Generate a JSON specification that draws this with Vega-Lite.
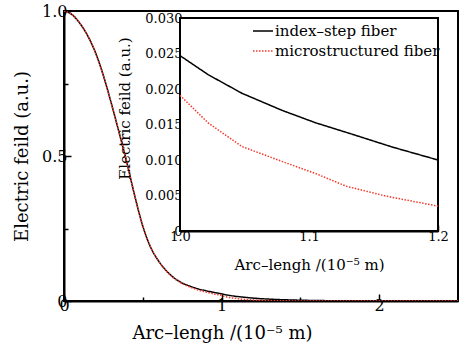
{
  "$schema": "https://vega.github.io/schema/vega-lite/v6.json",
  "autosize": {"type": "none"},
  "width": 394,
  "height": 290,
  "padding": {"left": 64, "top": 11, "right": 7, "bottom": 47},
  "background": "white",
  "config": {
    "view": {"stroke": "black", "strokeWidth": 2},
    "font": "DejaVu Serif, Liberation Serif, serif",
    "axis": {
      "domainColor": "black", "domainWidth": 2, "tickColor": "black", "tickWidth": 1.5,
      "labelColor": "black", "titleColor": "black", "labelFont": "DejaVu Serif, Liberation Serif, serif", "titleFont": "DejaVu Serif, Liberation Serif, serif",
      "titleFontWeight": "normal", "grid": false, "labelFlush": false, "labelOverlap": false
    },
    "legend": {"labelFont": "DejaVu Serif, Liberation Serif, serif", "labelLimit": 0}
  },
  "datasets": {
    "curve": [
      {"x": 0, "y": 1.0, "fiber": "index–step fiber"},
      {"x": 0.05, "y": 0.988, "fiber": "index–step fiber"},
      {"x": 0.1, "y": 0.958, "fiber": "index–step fiber"},
      {"x": 0.15, "y": 0.915, "fiber": "index–step fiber"},
      {"x": 0.2, "y": 0.856, "fiber": "index–step fiber"},
      {"x": 0.25, "y": 0.777, "fiber": "index–step fiber"},
      {"x": 0.3, "y": 0.682, "fiber": "index–step fiber"},
      {"x": 0.35, "y": 0.58, "fiber": "index–step fiber"},
      {"x": 0.4, "y": 0.475, "fiber": "index–step fiber"},
      {"x": 0.45, "y": 0.36, "fiber": "index–step fiber"},
      {"x": 0.5, "y": 0.258, "fiber": "index–step fiber"},
      {"x": 0.55, "y": 0.185, "fiber": "index–step fiber"},
      {"x": 0.6, "y": 0.138, "fiber": "index–step fiber"},
      {"x": 0.65, "y": 0.104, "fiber": "index–step fiber"},
      {"x": 0.7, "y": 0.079, "fiber": "index–step fiber"},
      {"x": 0.75, "y": 0.062, "fiber": "index–step fiber"},
      {"x": 0.8, "y": 0.051, "fiber": "index–step fiber"},
      {"x": 0.85, "y": 0.042, "fiber": "index–step fiber"},
      {"x": 0.9, "y": 0.0355, "fiber": "index–step fiber"},
      {"x": 0.95, "y": 0.0298, "fiber": "index–step fiber"},
      {"x": 1.0, "y": 0.0247, "fiber": "index–step fiber"},
      {"x": 1.022, "y": 0.022, "fiber": "index–step fiber"},
      {"x": 1.048, "y": 0.0194, "fiber": "index–step fiber"},
      {"x": 1.079, "y": 0.017, "fiber": "index–step fiber"},
      {"x": 1.105, "y": 0.01525, "fiber": "index–step fiber"},
      {"x": 1.134, "y": 0.0136, "fiber": "index–step fiber"},
      {"x": 1.165, "y": 0.0118, "fiber": "index–step fiber"},
      {"x": 1.2, "y": 0.01, "fiber": "index–step fiber"},
      {"x": 1.3, "y": 0.0065, "fiber": "index–step fiber"},
      {"x": 1.4, "y": 0.0042, "fiber": "index–step fiber"},
      {"x": 1.5, "y": 0.0027, "fiber": "index–step fiber"},
      {"x": 1.6, "y": 0.0017, "fiber": "index–step fiber"},
      {"x": 1.8, "y": 0.0007, "fiber": "index–step fiber"},
      {"x": 2.0, "y": 0.0003, "fiber": "index–step fiber"},
      {"x": 2.5, "y": 0.0, "fiber": "index–step fiber"},
      {"x": 0, "y": 1.0, "fiber": "microstructured fiber"},
      {"x": 0.05, "y": 0.988, "fiber": "microstructured fiber"},
      {"x": 0.1, "y": 0.958, "fiber": "microstructured fiber"},
      {"x": 0.15, "y": 0.915, "fiber": "microstructured fiber"},
      {"x": 0.2, "y": 0.856, "fiber": "microstructured fiber"},
      {"x": 0.25, "y": 0.777, "fiber": "microstructured fiber"},
      {"x": 0.3, "y": 0.682, "fiber": "microstructured fiber"},
      {"x": 0.35, "y": 0.58, "fiber": "microstructured fiber"},
      {"x": 0.4, "y": 0.475, "fiber": "microstructured fiber"},
      {"x": 0.45, "y": 0.36, "fiber": "microstructured fiber"},
      {"x": 0.5, "y": 0.258, "fiber": "microstructured fiber"},
      {"x": 0.55, "y": 0.185, "fiber": "microstructured fiber"},
      {"x": 0.6, "y": 0.138, "fiber": "microstructured fiber"},
      {"x": 0.65, "y": 0.103, "fiber": "microstructured fiber"},
      {"x": 0.7, "y": 0.078, "fiber": "microstructured fiber"},
      {"x": 0.75, "y": 0.06, "fiber": "microstructured fiber"},
      {"x": 0.8, "y": 0.048, "fiber": "microstructured fiber"},
      {"x": 0.85, "y": 0.038, "fiber": "microstructured fiber"},
      {"x": 0.9, "y": 0.031, "fiber": "microstructured fiber"},
      {"x": 0.95, "y": 0.0245, "fiber": "microstructured fiber"},
      {"x": 1.0, "y": 0.0191, "fiber": "microstructured fiber"},
      {"x": 1.022, "y": 0.0152, "fiber": "microstructured fiber"},
      {"x": 1.048, "y": 0.0119, "fiber": "microstructured fiber"},
      {"x": 1.079, "y": 0.0098, "fiber": "microstructured fiber"},
      {"x": 1.105, "y": 0.0081, "fiber": "microstructured fiber"},
      {"x": 1.129, "y": 0.0063, "fiber": "microstructured fiber"},
      {"x": 1.16, "y": 0.0049, "fiber": "microstructured fiber"},
      {"x": 1.2, "y": 0.0035, "fiber": "microstructured fiber"},
      {"x": 1.3, "y": 0.0015, "fiber": "microstructured fiber"},
      {"x": 1.4, "y": 0.0006, "fiber": "microstructured fiber"},
      {"x": 1.5, "y": 0.0002, "fiber": "microstructured fiber"},
      {"x": 1.7, "y": 0.0, "fiber": "microstructured fiber"},
      {"x": 2.5, "y": 0.0, "fiber": "microstructured fiber"}
    ]
  },
  "data": {"name": "curve"},
  "resolve": {"scale": {"x": "independent", "y": "independent"}, "axis": {"x": "independent", "y": "independent"}},
  "layer": [
    {
      "mark": {"type": "line", "strokeWidth": 1.5, "clip": true, "interpolate": "monotone"},
      "encoding": {
        "x": {
          "field": "x", "type": "quantitative",
          "scale": {"domain": [0, 2.5], "nice": false, "zero": false},
          "axis": {
            "orient": "bottom",
            "values": [0, 0.5, 1, 1.5, 2],
            "labelExpr": "datum.value % 1 === 0 ? format(datum.value, 'd') : ''",
            "tickSize": {"condition": {"test": "datum.value % 1 === 0", "value": -7}, "value": -4},
            "labelFontSize": 16, "labelPadding": 3,
            "title": "Arc–lengh /(10⁻⁵ m)", "titleFontSize": 18,
            "titleX": 158, "titleY": 37, "titleBaseline": "alphabetic", "titleAlign": "center"
          }
        },
        "y": {
          "field": "y", "type": "quantitative",
          "scale": {"domain": [0, 1], "nice": false},
          "axis": {
            "orient": "left",
            "values": [0, 0.25, 0.5, 0.75, 1],
            "labelExpr": "datum.value === 0 ? '0' : ((datum.value === 0.5 || datum.value === 1) ? format(datum.value, '.1f') : '')",
            "tickSize": {"condition": {"test": "datum.value === 0 || datum.value === 0.5 || datum.value === 1", "value": -7}, "value": -4},
            "labelFontSize": 16, "labelPadding": 4,
            "title": "Electric feild (a.u.)", "titleFontSize": 18,
            "titleX": -37, "titleY": 145, "titleBaseline": "alphabetic", "titleAlign": "center", "titleAngle": 270
          }
        },
        "color": {
          "field": "fiber", "type": "nominal",
          "scale": {"domain": ["index–step fiber", "microstructured fiber"], "range": ["#000000", "#f23a2c"]},
          "legend": {
            "orient": "none", "legendX": 188, "legendY": 9, "title": null,
            "symbolType": "stroke", "symbolSize": 400, "symbolStrokeWidth": 1.5,
            "labelFontSize": 15, "labelColor": "black", "labelLimit": 0,
            "labelOffset": 1, "rowPadding": 1
          }
        },
        "strokeDash": {
          "field": "fiber", "type": "nominal",
          "scale": {"domain": ["index–step fiber", "microstructured fiber"], "range": [[1, 0], [1.5, 1.5]]}
        }
      }
    },
    {
      "layer": [
        {
          "data": {"values": [{}]},
          "mark": {"type": "rect", "fill": "white", "stroke": "black", "strokeWidth": 2},
          "encoding": {
            "x": {
              "datum": 1, "type": "quantitative",
              "scale": {"domain": [1, 1.2], "range": [116, 374], "nice": false, "zero": false},
              "axis": {
                "orient": "bottom",
                "offset": -70,
                "values": [1, 1.025, 1.05, 1.075, 1.1, 1.125, 1.15, 1.175, 1.2],
                "labelExpr": "abs(datum.value * 10 - round(datum.value * 10)) < 1e-6 ? format(datum.value, '.1f') : ''",
                "tickSize": {"condition": {"test": "abs(datum.value * 20 - round(datum.value * 20)) < 1e-6", "value": -6}, "value": -3},
                "labelFontSize": 13, "labelPadding": 5,
                "title": "Arc–lengh /(10⁻⁵ m)", "titleFontSize": 15,
                "titleX": 245, "titleY": 38, "titleBaseline": "alphabetic", "titleAlign": "center"
              }
            },
            "x2": {"datum": 1.2},
            "y": {
              "datum": 0, "type": "quantitative",
              "scale": {"domain": [0, 0.03], "range": [220, 7], "nice": false},
              "axis": {
                "orient": "left",
                "offset": -116,
                "values": [0, 0.0025, 0.005, 0.0075, 0.01, 0.0125, 0.015, 0.0175, 0.02, 0.0225, 0.025, 0.0275, 0.03],
                "labelExpr": "abs(datum.value * 200 - round(datum.value * 200)) < 1e-6 ? (datum.value === 0 ? '0' : format(datum.value, '.3f')) : ''",
                "tickSize": {"condition": {"test": "abs(datum.value * 200 - round(datum.value * 200)) < 1e-6", "value": -6}, "value": -3},
                "labelFontSize": 13, "labelPadding": 4,
                "title": "Electric feild (a.u.)", "titleFontSize": 15,
                "titleX": -51, "titleY": 97, "titleBaseline": "alphabetic", "titleAlign": "center", "titleAngle": 270
              }
            },
            "y2": {"datum": 0.03}
          }
        },
        {
          "transform": [{"filter": "datum.x >= 1 && datum.x <= 1.2"}],
          "mark": {"type": "line", "strokeWidth": 1.5},
          "encoding": {
            "x": {"field": "x", "type": "quantitative"},
            "y": {"field": "y", "type": "quantitative"},
            "color": {"field": "fiber", "type": "nominal"},
            "strokeDash": {"field": "fiber", "type": "nominal"}
          }
        }
      ]
    }
  ]
}
